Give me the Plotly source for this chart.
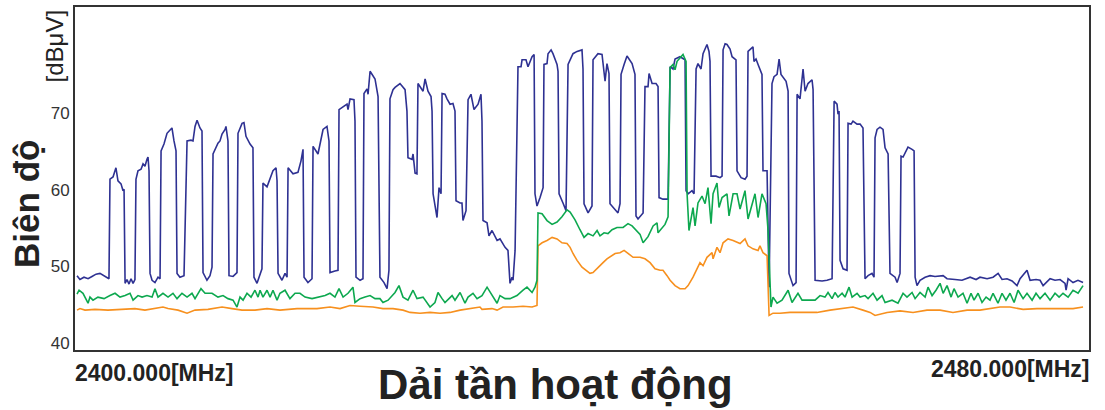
import plotly.graph_objects as go

# ---------------- data (frequency in MHz, level in dBuV) ----------------
blue_freq = [2400.16,2400.39,2400.71,2401.03,2401.34,2401.66,2401.97,2402.37,2402.68,2402.76,
2403.00,2403.23,2403.39,2403.63,2403.79,2403.87,2403.95,2404.10,2404.26,2404.42,
2404.58,2404.73,2404.81,2404.97,2405.21,2405.37,2405.52,2405.68,2405.76,2405.84,
2405.92,2406.08,2406.31,2406.55,2406.71,2406.79,2407.02,2407.26,2407.50,2407.65,
2407.81,2407.97,2408.05,2408.28,2408.60,2408.84,2409.15,2409.31,2409.47,2409.63,
2409.86,2410.02,2410.10,2410.41,2410.65,2410.81,2410.89,2411.12,2411.28,2411.44,
2411.60,2411.84,2411.91,2412.07,2412.15,2412.47,2412.78,2412.86,2413.18,2413.33,
2413.49,2413.81,2414.04,2414.12,2414.36,2414.75,2414.83,2415.15,2415.39,2415.62,
2415.86,2415.94,2416.02,2416.33,2416.57,2416.73,2416.81,2417.20,2417.59,2417.83,
2417.99,2418.07,2418.38,2418.70,2418.78,2419.17,2419.57,2419.88,2420.04,2420.12,
2420.51,2420.75,2420.83,2421.30,2421.46,2421.54,2421.70,2422.01,2422.09,2422.17,
2422.49,2422.72,2422.80,2423.04,2423.12,2423.28,2423.67,2423.91,2424.06,2424.38,
2424.62,2424.77,2424.85,2425.09,2425.25,2425.64,2426.04,2426.19,2426.27,2426.59,
2426.67,2426.83,2426.98,2427.06,2427.22,2427.46,2427.62,2427.85,2428.09,2428.17,
2428.25,2428.40,2428.56,2428.72,2428.88,2428.96,2429.19,2429.35,2429.59,2429.82,
2429.98,2430.06,2430.38,2430.53,2430.61,2430.85,2431.01,2431.24,2431.48,2431.80,
2432.03,2432.11,2432.19,2432.51,2432.66,2432.90,2433.30,2433.53,2433.93,2434.16,
2434.32,2434.48,2434.56,2434.72,2434.95,2435.19,2435.27,2435.58,2435.74,2436.06,
2436.22,2436.29,2436.45,2436.69,2436.93,2437.00,2437.24,2437.32,2437.56,2437.71,
2438.03,2438.11,2438.19,2438.50,2438.74,2438.90,2439.21,2439.29,2439.61,2440.00,
2440.08,2440.16,2440.48,2440.79,2440.87,2441.26,2441.58,2441.82,2441.97,2442.13,
2442.21,2442.61,2442.84,2443.00,2443.08,2443.32,2443.55,2443.95,2444.18,2444.26,
2444.42,2444.82,2444.97,2445.21,2445.29,2445.53,2445.84,2446.00,2446.08,2446.39,
2446.79,2446.95,2447.18,2447.34,2447.73,2448.13,2448.21,2448.37,2448.68,2448.84,
2449.00,2449.15,2449.39,2449.55,2449.86,2450.02,2450.10,2450.18,2450.57,2450.89,
2451.05,2451.13,2451.29,2451.44,2451.68,2451.84,2452.15,2452.23,2452.55,2452.86,
2453.02,2453.10,2453.26,2453.49,2453.57,2453.73,2453.89,2454.20,2454.28,2454.60,
2454.76,2454.99,2455.15,2455.39,2455.55,2455.70,2456.10,2456.26,2456.33,2456.65,
2456.89,2456.97,2457.20,2457.44,2457.60,2457.83,2458.15,2458.23,2458.39,2458.94,
2459.33,2459.73,2459.89,2460.12,2460.20,2460.28,2460.36,2460.60,2460.91,2460.99,
2461.23,2461.38,2461.70,2461.94,2462.17,2462.33,2462.57,2462.88,2463.04,2463.12,
2463.28,2463.51,2463.75,2463.91,2464.15,2464.30,2464.70,2464.86,2465.09,2465.17,
2465.33,2465.57,2465.72,2466.04,2466.20,2466.28,2466.43,2466.67,2467.07,2467.46,
2467.85,2468.49,2468.80,2469.43,2469.98,2470.62,2471.09,2471.40,2471.96,2472.43,
2472.83,2473.14,2473.53,2473.93,2474.32,2474.56,2475.11,2475.35,2475.82,2476.14,
2476.38,2476.93,2477.32,2477.72,2478.11,2478.19,2478.35,2478.74,2479.13,2479.53]

blue_level = [48.8,48.3,48.6,48.4,48.7,49.0,49.1,48.7,48.4,61.4,
61.7,62.9,61.2,60.8,59.9,60.1,47.8,48.3,47.7,48.4,
47.8,48.3,61.4,62.5,62.7,63.4,63.1,64.0,64.3,62.5,
49.1,48.2,47.9,48.6,48.4,65.1,66.0,67.4,67.9,68.1,
66.4,65.1,49.1,48.6,48.8,66.4,66.5,66.4,68.3,69.1,
68.1,67.7,49.2,48.2,48.8,49.9,64.7,65.5,66.1,66.4,
67.3,67.9,68.3,66.4,48.8,48.7,49.2,67.4,68.7,68.8,
67.0,66.0,65.5,48.6,47.8,49.7,60.9,60.4,61.4,62.5,
62.9,61.2,49.1,48.2,49.1,48.6,62.9,62.1,62.3,63.8,
65.3,48.6,47.9,48.4,65.7,64.7,67.9,68.3,66.4,49.2,
49.4,49.5,70.5,71.0,71.2,70.5,71.9,71.8,69.0,48.6,
48.2,48.4,72.6,73.2,72.5,75.5,74.5,72.2,48.6,47.9,
47.1,49.5,71.9,73.1,73.4,73.9,73.1,70.3,64.2,64.0,
64.7,62.2,62.1,73.9,73.5,72.9,74.5,72.9,72.2,70.3,
59.5,57.7,56.4,60.3,59.5,72.6,72.5,71.9,71.2,71.3,
70.3,58.6,58.3,58.3,56.0,57.3,71.8,72.5,70.5,71.2,
72.5,69.0,56.0,55.7,54.0,54.7,53.4,53.6,52.5,52.1,
47.8,48.6,48.2,52.1,76.1,76.1,77.0,77.0,76.1,77.4,
77.7,59.5,57.9,59.0,60.3,76.4,76.5,77.8,78.3,77.8,
76.4,75.5,59.5,58.3,57.3,76.4,77.4,77.8,78.1,78.3,
75.8,58.2,57.0,57.9,77.0,77.8,77.7,74.2,76.5,75.2,
58.2,57.5,57.0,58.2,75.1,76.4,77.5,76.5,75.1,56.6,
56.2,57.0,73.5,73.5,75.2,73.9,73.9,73.5,59.0,58.8,
58.8,76.1,75.8,77.1,77.4,77.0,59.9,59.5,59.9,59.5,
75.8,76.5,75.8,77.8,79.0,78.1,76.8,61.8,61.8,61.6,
61.8,78.3,79.1,79.0,78.4,77.4,77.0,62.5,61.6,61.4,
61.8,78.1,78.3,78.7,76.8,77.1,76.4,75.1,62.5,62.5,
47.3,73.9,74.8,75.1,77.1,75.1,74.2,72.9,49.1,47.5,
47.9,72.5,71.9,75.8,72.9,73.9,74.4,73.1,48.2,48.1,
48.2,48.4,71.6,71.2,69.9,70.3,50.8,49.7,49.5,68.7,
68.6,69.0,68.6,68.6,68.1,48.4,48.8,49.1,48.6,66.8,
67.9,68.2,67.9,65.5,64.7,49.1,48.6,47.9,49.1,64.4,
64.3,65.1,65.6,65.3,65.1,48.6,47.5,48.2,48.6,48.8,
48.7,48.8,48.4,48.3,48.2,48.6,48.3,48.6,48.4,48.6,
49.1,48.3,48.4,48.1,47.5,48.4,49.5,48.2,48.3,48.2,
47.5,48.4,48.2,48.3,47.8,46.9,48.4,47.9,48.2,47.9]

green_freq = [2400.16,2400.32,2400.63,2401.03,2401.18,2401.42,2401.81,2402.29,2402.76,2403.16,
2403.55,2403.95,2404.34,2404.58,2404.97,2405.29,2405.68,2406.08,2406.31,2406.55,
2406.94,2407.34,2407.73,2408.05,2408.44,2408.84,2409.23,2409.47,2409.94,2410.26,
2410.81,2411.28,2411.68,2412.07,2412.47,2412.78,2413.02,2413.26,2413.57,2413.89,
2414.20,2414.44,2414.60,2414.83,2415.15,2415.39,2415.62,2415.94,2416.17,2416.57,
2416.96,2417.36,2417.75,2418.15,2418.70,2419.17,2419.73,2420.12,2420.51,2420.83,
2421.15,2421.54,2421.93,2422.09,2422.49,2422.88,2423.28,2423.67,2424.06,2424.30,
2424.70,2425.25,2425.56,2425.88,2426.27,2426.67,2426.98,2427.46,2428.01,2428.40,
2428.64,2428.96,2429.19,2429.75,2429.98,2430.38,2430.77,2431.01,2431.40,2431.72,
2432.11,2432.51,2432.90,2433.30,2433.53,2433.93,2434.32,2434.87,2435.35,2435.66,
2436.06,2436.29,2436.45,2436.53,2436.85,2437.24,2437.64,2438.03,2438.42,2438.82,
2439.06,2439.45,2439.84,2440.16,2440.48,2440.87,2441.19,2441.42,2441.74,2442.05,
2442.37,2442.76,2443.24,2443.63,2443.95,2444.26,2444.58,2444.82,2445.21,2445.61,
2445.92,2446.00,2446.55,2446.79,2446.95,2447.18,2447.34,2447.50,2447.81,2447.97,
2448.21,2448.29,2448.44,2448.76,2448.92,2449.15,2449.47,2449.71,2449.94,2450.18,
2450.34,2450.65,2450.81,2451.05,2451.44,2451.60,2451.92,2452.23,2452.47,2452.86,
2453.10,2453.42,2453.65,2453.89,2454.20,2454.52,2454.68,2454.91,2455.07,2455.39,
2455.78,2456.26,2456.57,2457.04,2457.36,2457.83,2458.39,2458.78,2459.17,2459.41,
2459.73,2459.96,2460.20,2460.52,2460.75,2461.07,2461.31,2461.70,2461.94,2462.33,
2462.57,2462.96,2463.28,2463.67,2463.91,2464.46,2464.93,2465.33,2465.64,2466.04,
2466.28,2466.67,2467.07,2467.30,2467.62,2467.93,2468.25,2468.49,2468.80,2469.12,
2469.35,2469.67,2470.06,2470.38,2470.69,2470.93,2471.25,2471.56,2471.88,2472.19,
2472.43,2472.82,2473.14,2473.45,2473.77,2474.09,2474.40,2474.80,2475.11,2475.51,
2475.82,2476.14,2476.53,2476.93,2477.32,2477.64,2477.95,2478.35,2478.74,2479.14,
2479.53]

green_level = [46.4,46.9,46.5,45.2,46.0,45.6,46.0,45.8,46.2,46.5,
46.0,46.2,46.5,45.6,46.2,46.0,46.2,46.0,47.1,46.0,
46.5,46.0,46.5,45.8,46.5,46.0,46.5,45.8,47.1,46.5,
46.5,46.0,46.2,45.8,45.6,44.7,46.0,45.6,46.5,46.0,
46.9,46.0,46.9,46.0,46.9,46.0,46.9,45.6,46.5,46.9,
45.8,46.5,46.5,46.0,45.8,46.0,46.2,46.5,46.0,47.1,
46.0,46.5,47.3,45.3,45.8,46.0,46.2,45.8,45.8,45.3,
45.6,46.6,47.5,46.0,45.6,46.9,45.8,46.0,44.7,45.3,
46.6,45.8,45.3,46.2,45.6,46.6,45.2,46.0,46.5,45.8,
46.2,47.3,46.2,45.2,46.2,45.8,45.8,46.2,46.9,47.3,
46.6,47.3,48.2,57.0,56.9,56.0,55.5,55.8,56.5,57.4,
57.1,56.1,54.8,53.8,54.3,54.0,54.7,54.0,54.4,54.3,
54.8,55.1,55.1,55.6,55.3,54.8,54.2,53.1,53.9,55.3,
55.7,54.4,55.5,56.5,76.0,76.4,75.7,76.8,77.4,77.7,
76.8,59.5,54.7,57.7,55.3,58.3,59.2,58.2,60.3,55.6,
59.5,60.9,57.7,59.0,59.5,56.6,59.5,59.5,57.5,59.9,
56.2,58.2,59.5,56.4,59.5,58.2,54.7,44.7,46.0,45.2,
45.6,46.9,45.3,46.5,45.6,45.6,45.6,46.2,46.0,46.6,
45.8,46.6,46.0,46.5,46.0,47.3,46.0,46.5,46.0,46.2,
45.8,46.5,45.6,46.2,45.3,45.6,45.2,46.5,46.0,46.6,
45.8,46.6,46.0,47.3,46.2,46.9,47.8,46.5,47.5,46.0,
47.1,46.0,46.5,45.2,46.5,45.6,46.5,45.3,46.0,45.6,
46.5,45.2,46.5,45.6,46.5,45.3,46.9,45.8,46.5,45.6,
46.5,45.8,46.5,45.6,46.5,46.0,46.5,46.0,46.9,46.5,
47.5]

orange_freq = [2400.16,2400.39,2400.79,2401.58,2402.60,2403.55,2404.73,2405.52,2406.31,2406.94,
2407.34,2408.13,2408.84,2409.47,2410.49,2411.60,2412.39,2413.18,2414.20,2415.15,
2416.17,2417.52,2419.09,2420.12,2420.91,2421.70,2422.49,2423.51,2424.30,2425.09,
2425.88,2426.43,2427.22,2428.01,2428.80,2429.59,2430.38,2431.17,2431.95,2432.11,
2432.90,2433.30,2433.77,2434.56,2435.35,2436.06,2436.45,2436.53,2436.85,2437.24,
2437.64,2438.03,2438.42,2438.82,2439.06,2439.29,2439.61,2440.00,2440.32,2440.63,
2440.87,2441.26,2441.66,2441.97,2442.37,2442.61,2443.00,2443.32,2443.63,2444.03,
2444.58,2444.97,2445.37,2445.76,2446.16,2446.39,2446.71,2446.95,2447.34,2447.73,
2448.13,2448.37,2448.76,2449.08,2449.31,2449.55,2449.86,2450.26,2450.34,2450.65,
2450.89,2451.13,2451.52,2451.92,2452.47,2452.86,2453.10,2453.49,2453.89,2454.04,
2454.28,2454.60,2454.76,2455.07,2455.62,2456.41,2457.44,2458.54,2459.57,2460.60,
2461.38,2462.17,2462.73,2463.12,2463.51,2464.07,2465.09,2466.12,2467.22,2468.25,
2469.27,2470.38,2471.40,2472.43,2472.98,2473.77,2474.80,2475.90,2476.93,2477.95,
2478.74,2479.53]

orange_level = [44.3,44.5,44.3,44.4,44.3,44.4,44.5,44.3,44.5,44.7,
44.5,44.3,43.9,44.3,44.4,44.7,44.5,44.3,44.3,44.5,
44.3,44.5,44.5,44.7,44.5,44.9,44.8,44.7,44.5,44.5,
44.3,44.0,43.9,44.0,43.9,44.0,44.3,44.5,44.7,44.4,
44.5,44.3,44.7,44.7,44.8,44.7,44.9,52.7,53.1,53.4,
53.8,53.6,53.1,53.0,52.5,51.7,50.8,49.9,49.5,49.1,
49.2,49.9,50.5,51.0,51.4,51.7,51.8,52.1,51.7,51.2,
51.2,51.0,50.5,49.7,49.5,49.5,48.8,48.2,47.5,47.1,
47.1,47.5,48.6,49.7,50.5,50.1,51.2,51.8,51.0,52.5,
51.8,53.1,53.6,53.4,53.0,53.6,52.7,52.3,52.1,52.7,
51.8,51.4,43.6,43.9,43.9,44.0,44.0,44.0,44.3,44.5,
44.7,44.3,44.0,43.6,43.8,44.0,44.2,44.0,44.3,44.3,
44.0,44.3,44.3,44.5,44.7,44.7,44.4,44.5,44.5,44.5,
44.5,44.7]

for a, b in [(blue_freq, blue_level), (green_freq, green_level), (orange_freq, orange_level)]:
    assert len(a) == len(b), (len(a), len(b))

y_ticks = [40, 50, 60, 70]
x_start_label = "2400.000[MHz]"
x_end_label = "2480.000[MHz]"

BLUE = "#2E3192"
GREEN = "#0DA84F"
ORANGE = "#F7901E"
FONT = "Liberation Sans, Arial, sans-serif"

fig = go.Figure()
fig.add_trace(go.Scatter(x=blue_freq, y=blue_level, mode="lines",
                         line=dict(color=BLUE, width=1.6), hoverinfo="skip"))
fig.add_trace(go.Scatter(x=orange_freq, y=orange_level, mode="lines",
                         line=dict(color=ORANGE, width=1.6), hoverinfo="skip"))
fig.add_trace(go.Scatter(x=green_freq, y=green_level, mode="lines",
                         line=dict(color=GREEN, width=1.6), hoverinfo="skip"))

fig.update_layout(
    width=1105, height=410,
    margin=dict(l=75, r=16, t=5, b=60),
    paper_bgcolor="white", plot_bgcolor="white",
    showlegend=False,
    font=dict(family=FONT, color="#333333"),
    xaxis=dict(range=[2400, 2480], showgrid=False, zeroline=False,
               showticklabels=False, ticks="",
               showline=True, mirror=True, linecolor="#333333", linewidth=2),
    yaxis=dict(range=[39.09, 83.9], showgrid=False, zeroline=False,
               tickvals=y_ticks, ticks="", tickfont=dict(size=17, color="#333333"),
               showline=True, mirror=True, linecolor="#333333", linewidth=2),
    annotations=[
        dict(text="[dBμV]", xref="paper", yref="paper", x=-0.0207, y=0.885,
             xanchor="center", yanchor="middle", textangle=-90, showarrow=False,
             font=dict(size=24, color="#222222", family=FONT)),
        dict(text="<b>Biên độ</b>", xref="paper", yref="paper", x=-0.0473, y=0.426,
             xanchor="center", yanchor="middle", textangle=-90, showarrow=False,
             font=dict(size=35, color="#222222", family=FONT)),
        dict(text="<b>" + x_start_label + "</b>", xref="paper", yref="paper", x=-0.002, y=-0.0667,
             xanchor="left", yanchor="middle", showarrow=False,
             font=dict(size=23, color="#222222", family=FONT)),
        dict(text="<b>" + x_end_label + "</b>", xref="paper", yref="paper", x=1.003, y=-0.055,
             xanchor="right", yanchor="middle", showarrow=False,
             font=dict(size=23, color="#222222", family=FONT)),
        dict(text="<b>Dải tần hoạt động</b>", xref="paper", yref="paper", x=0.474, y=-0.101,
             xanchor="center", yanchor="middle", showarrow=False,
             font=dict(size=42, color="#222222", family=FONT)),
    ],
)

fig.write_html("out.html", config={"displayModeBar": False},
               post_script="document.body.style.margin='0';")
